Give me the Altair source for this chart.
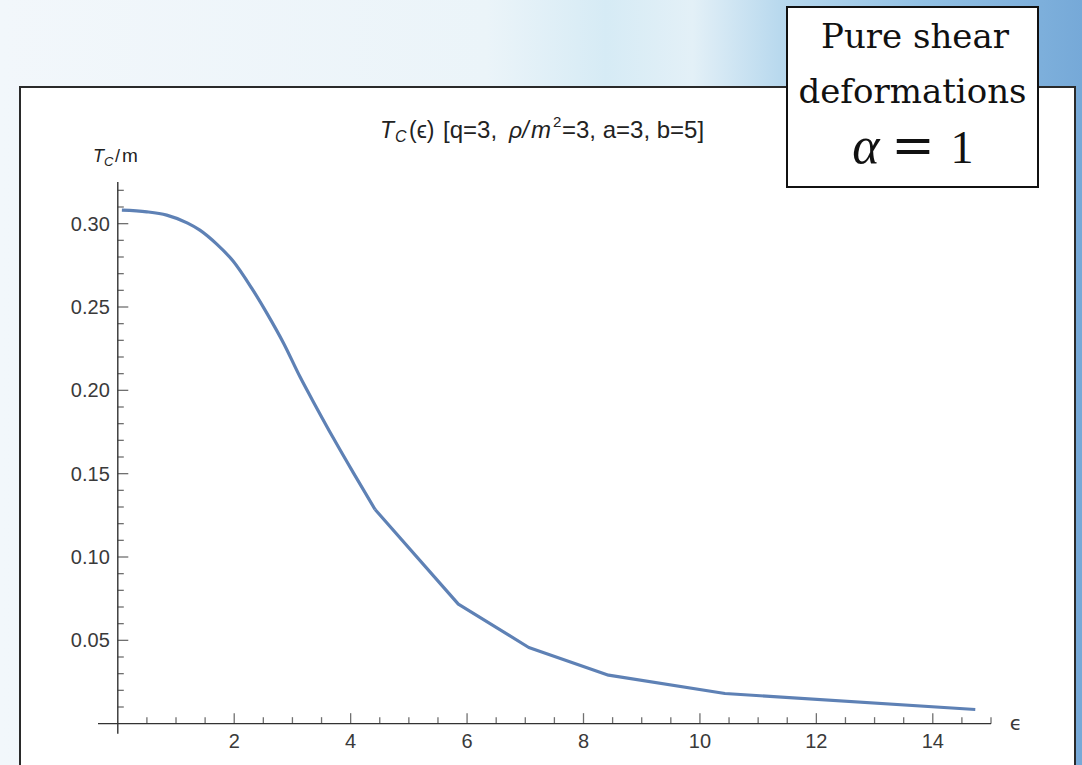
import altair as alt
import pandas as pd

# ---- data ----
eps = [0.07, 0.5, 0.84, 1.2, 1.41, 1.7, 1.98, 2.3, 2.56, 2.85, 3.13, 3.4,
       3.70, 4.05, 4.42, 5.85, 7.06, 8.43, 10.43, 14.73]
tc = [0.3081, 0.3071, 0.3051, 0.3003, 0.2961, 0.2877, 0.2776, 0.2613, 0.2463,
      0.2281, 0.2081, 0.1905, 0.1715, 0.1503, 0.1285, 0.0717, 0.0457, 0.0291,
      0.0181, 0.0085]
SMOOTH_END = 15  # the first 15 samples form the smooth part of the curve

x_major = [2, 4, 6, 8, 10, 12, 14]
x_minor = [0.5, 1, 1.5, 2.5, 3, 3.5, 4.5, 5, 5.5, 6.5, 7, 7.5, 8.5, 9, 9.5,
           10.5, 11, 11.5, 12.5, 13, 13.5, 14.5, 15]
y_major = [0.05, 0.10, 0.15, 0.20, 0.25, 0.30]
y_minor = [0.01, 0.02, 0.03, 0.04, 0.06, 0.07, 0.08, 0.09, 0.11, 0.12, 0.13,
           0.14, 0.16, 0.17, 0.18, 0.19, 0.21, 0.22, 0.23, 0.24, 0.26, 0.27,
           0.28, 0.29, 0.31, 0.32]
x_labels = ["2", "4", "6", "8", "10", "12", "14"]
y_labels = ["0.05", "0.10", "0.15", "0.20", "0.25", "0.30"]

title_parts = ["T", "C", "(ϵ)", "[q=3,", "ρ/", "m", "2", "=3, a=3, b=5]"]
ylabel_parts = ["T", "C", "/", "m"]
xlabel_text = "ϵ"
box_lines = ["Pure shear", "deformations"]
box_math = ["α", "=", "1"]

# ---- layout ----
X_MIN, X_MAX = -0.34, 15.0
Y_MIN, Y_MAX = -0.0068, 0.325
W, H = 893, 553
PL, PT = 98, 182
PAD = {"left": PL, "top": PT, "right": 1082 - PL - W, "bottom": 765 - PT - H}

xs = alt.Scale(domain=[X_MIN, X_MAX], nice=False, zero=False)
ys = alt.Scale(domain=[Y_MIN, Y_MAX], nice=False, zero=False)
AX = "#333333"
LABEL_FONT = "Liberation Sans"
LABEL_COLOR = "#3a3a3a"
LINE_COLOR = "#5e81b5"


def XQ():
    return alt.X("x:Q", scale=xs, axis=None)


def YQ():
    return alt.Y("y:Q", scale=ys, axis=None)


def one(text=""):
    return pd.DataFrame({"t": [text]})


def rect(x0, y0, x1, y1, **mk):
    return alt.Chart(one()).mark_rect(**mk).encode(
        x=alt.value(x0 - PL), x2=alt.value(x1 - PL),
        y=alt.value(y0 - PT), y2=alt.value(y1 - PT))


def txt(text, x, y, size, font=LABEL_FONT, style="normal", align="left",
        baseline="alphabetic", color="#222222"):
    return alt.Chart(one(text)).mark_text(
        align=align, baseline=baseline, font=font, fontSize=size,
        fontStyle=style, color=color).encode(
        x=alt.value(x - PL), y=alt.value(y - PT), text="t:N")


bg = rect(0, 0, 1082, 765, fill=alt.LinearGradient(
    gradient="linear", x1=0, x2=1, y1=0, y2=0,
    stops=[alt.GradientStop(offset=0, color="#f2f7fb"),
           alt.GradientStop(offset=0.45, color="#ebf4f9"),
           alt.GradientStop(offset=0.56, color="#d6ebf5"),
           alt.GradientStop(offset=0.64, color="#e3f0f7"),
           alt.GradientStop(offset=0.72, color="#b9d9ee"),
           alt.GradientStop(offset=0.85, color="#92c1e4"),
           alt.GradientStop(offset=1, color="#76a9d8")]))

panel = rect(20, 87, 1075, 790, fill="white", stroke="#2a2a2a", strokeWidth=2)

smooth_df = pd.DataFrame({"x": eps[:SMOOTH_END], "y": tc[:SMOOTH_END]})
sampled_df = pd.DataFrame({"x": eps[SMOOTH_END - 1:], "y": tc[SMOOTH_END - 1:]})

line_smooth = alt.Chart(smooth_df).mark_line(
    color=LINE_COLOR, strokeWidth=3.2, interpolate="monotone").encode(x=XQ(), y=YQ())
line_sampled = alt.Chart(sampled_df).mark_line(
    color=LINE_COLOR, strokeWidth=3.2, strokeJoin="round").encode(x=XQ(), y=YQ())

xaxis_line = alt.Chart(pd.DataFrame({"x": [X_MIN], "x2": [X_MAX], "y": [0.0]})).mark_rule(
    color=AX, strokeWidth=1.4).encode(x=XQ(), x2="x2:Q", y=YQ())
yaxis_line = alt.Chart(pd.DataFrame({"x": [0.0], "y": [Y_MIN + 0.0008], "y2": [Y_MAX]})).mark_rule(
    color=AX, strokeWidth=1.4).encode(x=XQ(), y=YQ(), y2="y2:Q")


def xticks(vals, size):
    df = pd.DataFrame({"x": vals, "y": [0.0] * len(vals)})
    return alt.Chart(df).mark_tick(orient="vertical", size=size, thickness=1.3,
                                   color=AX, yOffset=-size / 2).encode(x=XQ(), y=YQ())


def yticks(vals, size):
    df = pd.DataFrame({"x": [0.0] * len(vals), "y": vals})
    return alt.Chart(df).mark_tick(orient="horizontal", size=size, thickness=1.3,
                                   color=AX, xOffset=size / 2).encode(x=XQ(), y=YQ())


xlab_df = pd.DataFrame({"x": x_major, "y": [0.0] * len(x_major), "lab": x_labels})
xlabs = alt.Chart(xlab_df).mark_text(
    baseline="top", align="center", dy=8, font=LABEL_FONT, fontSize=20,
    color=LABEL_COLOR).encode(x=XQ(), y=YQ(), text="lab:N")

ylab_df = pd.DataFrame({"x": [0.0] * len(y_major), "y": y_major, "lab": y_labels})
ylabs = alt.Chart(ylab_df).mark_text(
    baseline="middle", align="right", dx=-8, dy=1, font=LABEL_FONT, fontSize=20,
    color=LABEL_COLOR).encode(x=XQ(), y=YQ(), text="lab:N")

title_layers = [
    txt(title_parts[0], 380, 137.5, 23, style="italic"),
    txt(title_parts[1], 395, 142, 16, style="italic"),
    txt(title_parts[2], 409, 137.5, 23),
    txt(title_parts[3], 443, 137.5, 24),
    txt(title_parts[4], 509, 137.5, 23, style="italic"),
    txt(title_parts[5], 531, 137.5, 24, style="italic"),
    txt(title_parts[6], 553, 127, 15),
    txt(title_parts[7], 562, 137.5, 24),
]
ylabel_layers = [
    txt(ylabel_parts[0], 93, 161.5, 18, style="italic"),
    txt(ylabel_parts[1], 104, 166, 13, style="italic"),
    txt(ylabel_parts[2], 115, 161.5, 18),
    txt(ylabel_parts[3], 122, 161.5, 19),
]
xlabel = txt(xlabel_text, 1016, 724, 20, font="DejaVu Sans", align="center",
             baseline="middle", color=LABEL_COLOR)

box = rect(787, 7, 1038, 187, fill="white", stroke="#111111", strokeWidth=2)
box_layers = [
    txt(box_lines[0], 915, 48, 34, font="DejaVu Serif", align="center", color="#111111"),
    txt(box_lines[1], 912.5, 103, 34, font="DejaVu Serif", align="center", color="#111111"),
    txt(box_math[0], 866, 163, 52, font="Liberation Serif", style="italic",
        align="center", color="#111111"),
    txt(box_math[1], 913, 163, 52, font="DejaVu Serif", align="center", color="#111111"),
    txt(box_math[2], 962, 163, 46, font="Liberation Serif", align="center", color="#111111"),
]

chart = alt.layer(
    bg, panel, xaxis_line, yaxis_line,
    xticks(x_major, 10.5), xticks(x_minor, 6.5),
    yticks(y_major, 10.5), yticks(y_minor, 6),
    xlabs, ylabs,
    line_smooth, line_sampled, *title_layers, *ylabel_layers, xlabel, box, *box_layers,
).properties(
    width=W, height=H, padding=PAD, autosize="none", background="#eef5fa",
).configure_view(stroke="transparent")

chart.save("out.html", embed_options={"renderer": "svg", "actions": False})
